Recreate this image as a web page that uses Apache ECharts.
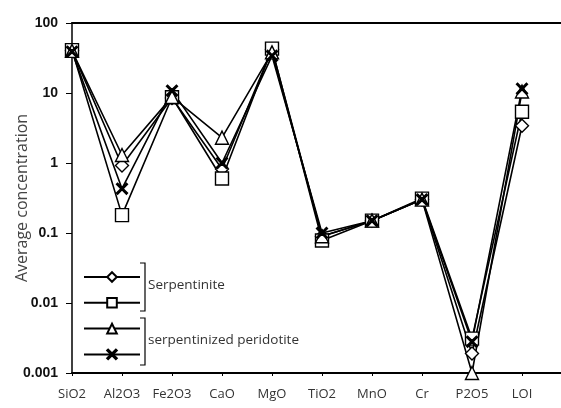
<!DOCTYPE html>
<html>
<head>
<meta charset="utf-8">
<script src="https://cdn.jsdelivr.net/npm/echarts@6/dist/echarts.min.js"></script>
<style>html,body{margin:0;padding:0;background:#fff;}#c{width:561px;height:408px;}</style>
</head>
<body>
<div id="c"></div>
<script>
var categories = ['SiO2','Al2O3','Fe2O3','CaO','MgO','TiO2','MnO','Cr','P2O5','LOI'];
var yTicks = [0.001, 0.01, 0.1, 1, 10, 100];
var serpDiamond  = [40, 0.92, 8.5, 0.82, 42, 0.09, 0.15, 0.30, 0.0019, 3.4];
var serpSquare   = [41, 0.18, 8.7, 0.60, 43, 0.078, 0.15, 0.31, 0.0031, 5.4];
var periTriangle = [40, 1.3, 8.8, 2.3, 38, 0.09, 0.15, 0.30, 0.001, 10.5];
var periX        = [39, 0.43, 10.8, 1.0, 34, 0.10, 0.15, 0.30, 0.0028, 11.5];

var crossPath = 'path://M0,1 L1,0 L5,4 L9,0 L10,1 L6,5 L10,9 L9,10 L5,6 L1,10 L0,9 L4,5 Z';

function pairs(arr){ return arr.map(function(v,i){ return [i, v]; }); }
function mk(name, arr, symbol, fill, size){
  return {
    name: name, type: 'line', data: pairs(arr),
    symbol: symbol, symbolSize: size, showSymbol: true,
    lineStyle: {color: '#000', width: 1.6},
    itemStyle: {color: fill, borderColor: '#000', borderWidth: 1.4},
    emphasis: {disabled: true}, animation: false, z: 3
  };
}

var chart = echarts.init(document.getElementById('c'));
chart.setOption({
  backgroundColor: '#fff',
  animation: false,
  grid: {left: 72, top: 23, right: 0, bottom: 35, containLabel: false, outerBoundsMode: 'none'},
  xAxis: [{
    type: 'value', min: 0, max: 9.78, interval: 1,
    axisLine: {lineStyle: {color: '#000', width: 2}},
    axisTick: {show: true, length: 3, lineStyle: {color: '#000'}},
    splitLine: {show: false},
    axisLabel: {
      margin: 15, fontSize: 13, color: '#333', fontFamily: 'Open Sans',
      formatter: function(v){ return (Math.abs(v - Math.round(v)) < 1e-6 && categories[Math.round(v)]) || ''; }
    }
  }, {
    type: 'value', position: 'top', min: 0, max: 9.78,
    axisLine: {show: true, lineStyle: {color: '#000', width: 2}},
    axisTick: {show: false}, axisLabel: {show: false}, splitLine: {show: false}
  }],
  yAxis: {
    type: 'log', logBase: 10, min: yTicks[0], max: yTicks[yTicks.length-1],
    name: 'Average concentration', nameLocation: 'middle', nameGap: 42, nameMoveOverlap: false,
    nameTextStyle: {fontSize: 16, color: '#444', fontFamily: 'Open Sans'},
    axisLine: {show: true, lineStyle: {color: '#000', width: 1.5}},
    axisTick: {show: true, length: 6, lineStyle: {color: '#000'}},
    minorTick: {show: false},
    splitLine: {show: false},
    axisLabel: {
      margin: 14, fontSize: 14, fontWeight: 'bold', color: '#111', fontFamily: 'Liberation Sans',
      formatter: function(v){ return String(v); }
    }
  },
  legend: {
    orient: 'vertical', left: 78, top: 266,
    itemWidth: 56, itemHeight: 12, itemGap: 14,
    formatter: function(){ return ''; },
    textStyle: {fontSize: 1},
    data: ['Serpentinite A','Serpentinite B','Serpentinized peridotite A','Serpentinized peridotite B']
  },
  graphic: [
    {type: 'polyline', shape: {points: [[140,263],[145,263],[145,311],[140,311]]}, style: {stroke: '#000', lineWidth: 1.2, fill: null}},
    {type: 'polyline', shape: {points: [[140,318],[145,318],[145,365],[140,365]]}, style: {stroke: '#000', lineWidth: 1.2, fill: null}},
    {type: 'text', left: 148, top: 278, style: {text: 'Serpentinite', fontSize: 13.5, fill: '#333', fontFamily: 'Open Sans'}},
    {type: 'text', left: 148, top: 333, style: {text: 'serpentinized peridotite', fontSize: 13.5, fill: '#333', fontFamily: 'Open Sans'}}
  ],
  series: [
    mk('Serpentinite A', serpDiamond, 'diamond', '#fff', 13),
    mk('Serpentinite B', serpSquare, 'rect', '#fff', 13),
    mk('Serpentinized peridotite A', periTriangle, 'triangle', '#fff', 13),
    mk('Serpentinized peridotite B', periX, crossPath, '#000', 11)
  ]
});
</script>
</body>
</html>
